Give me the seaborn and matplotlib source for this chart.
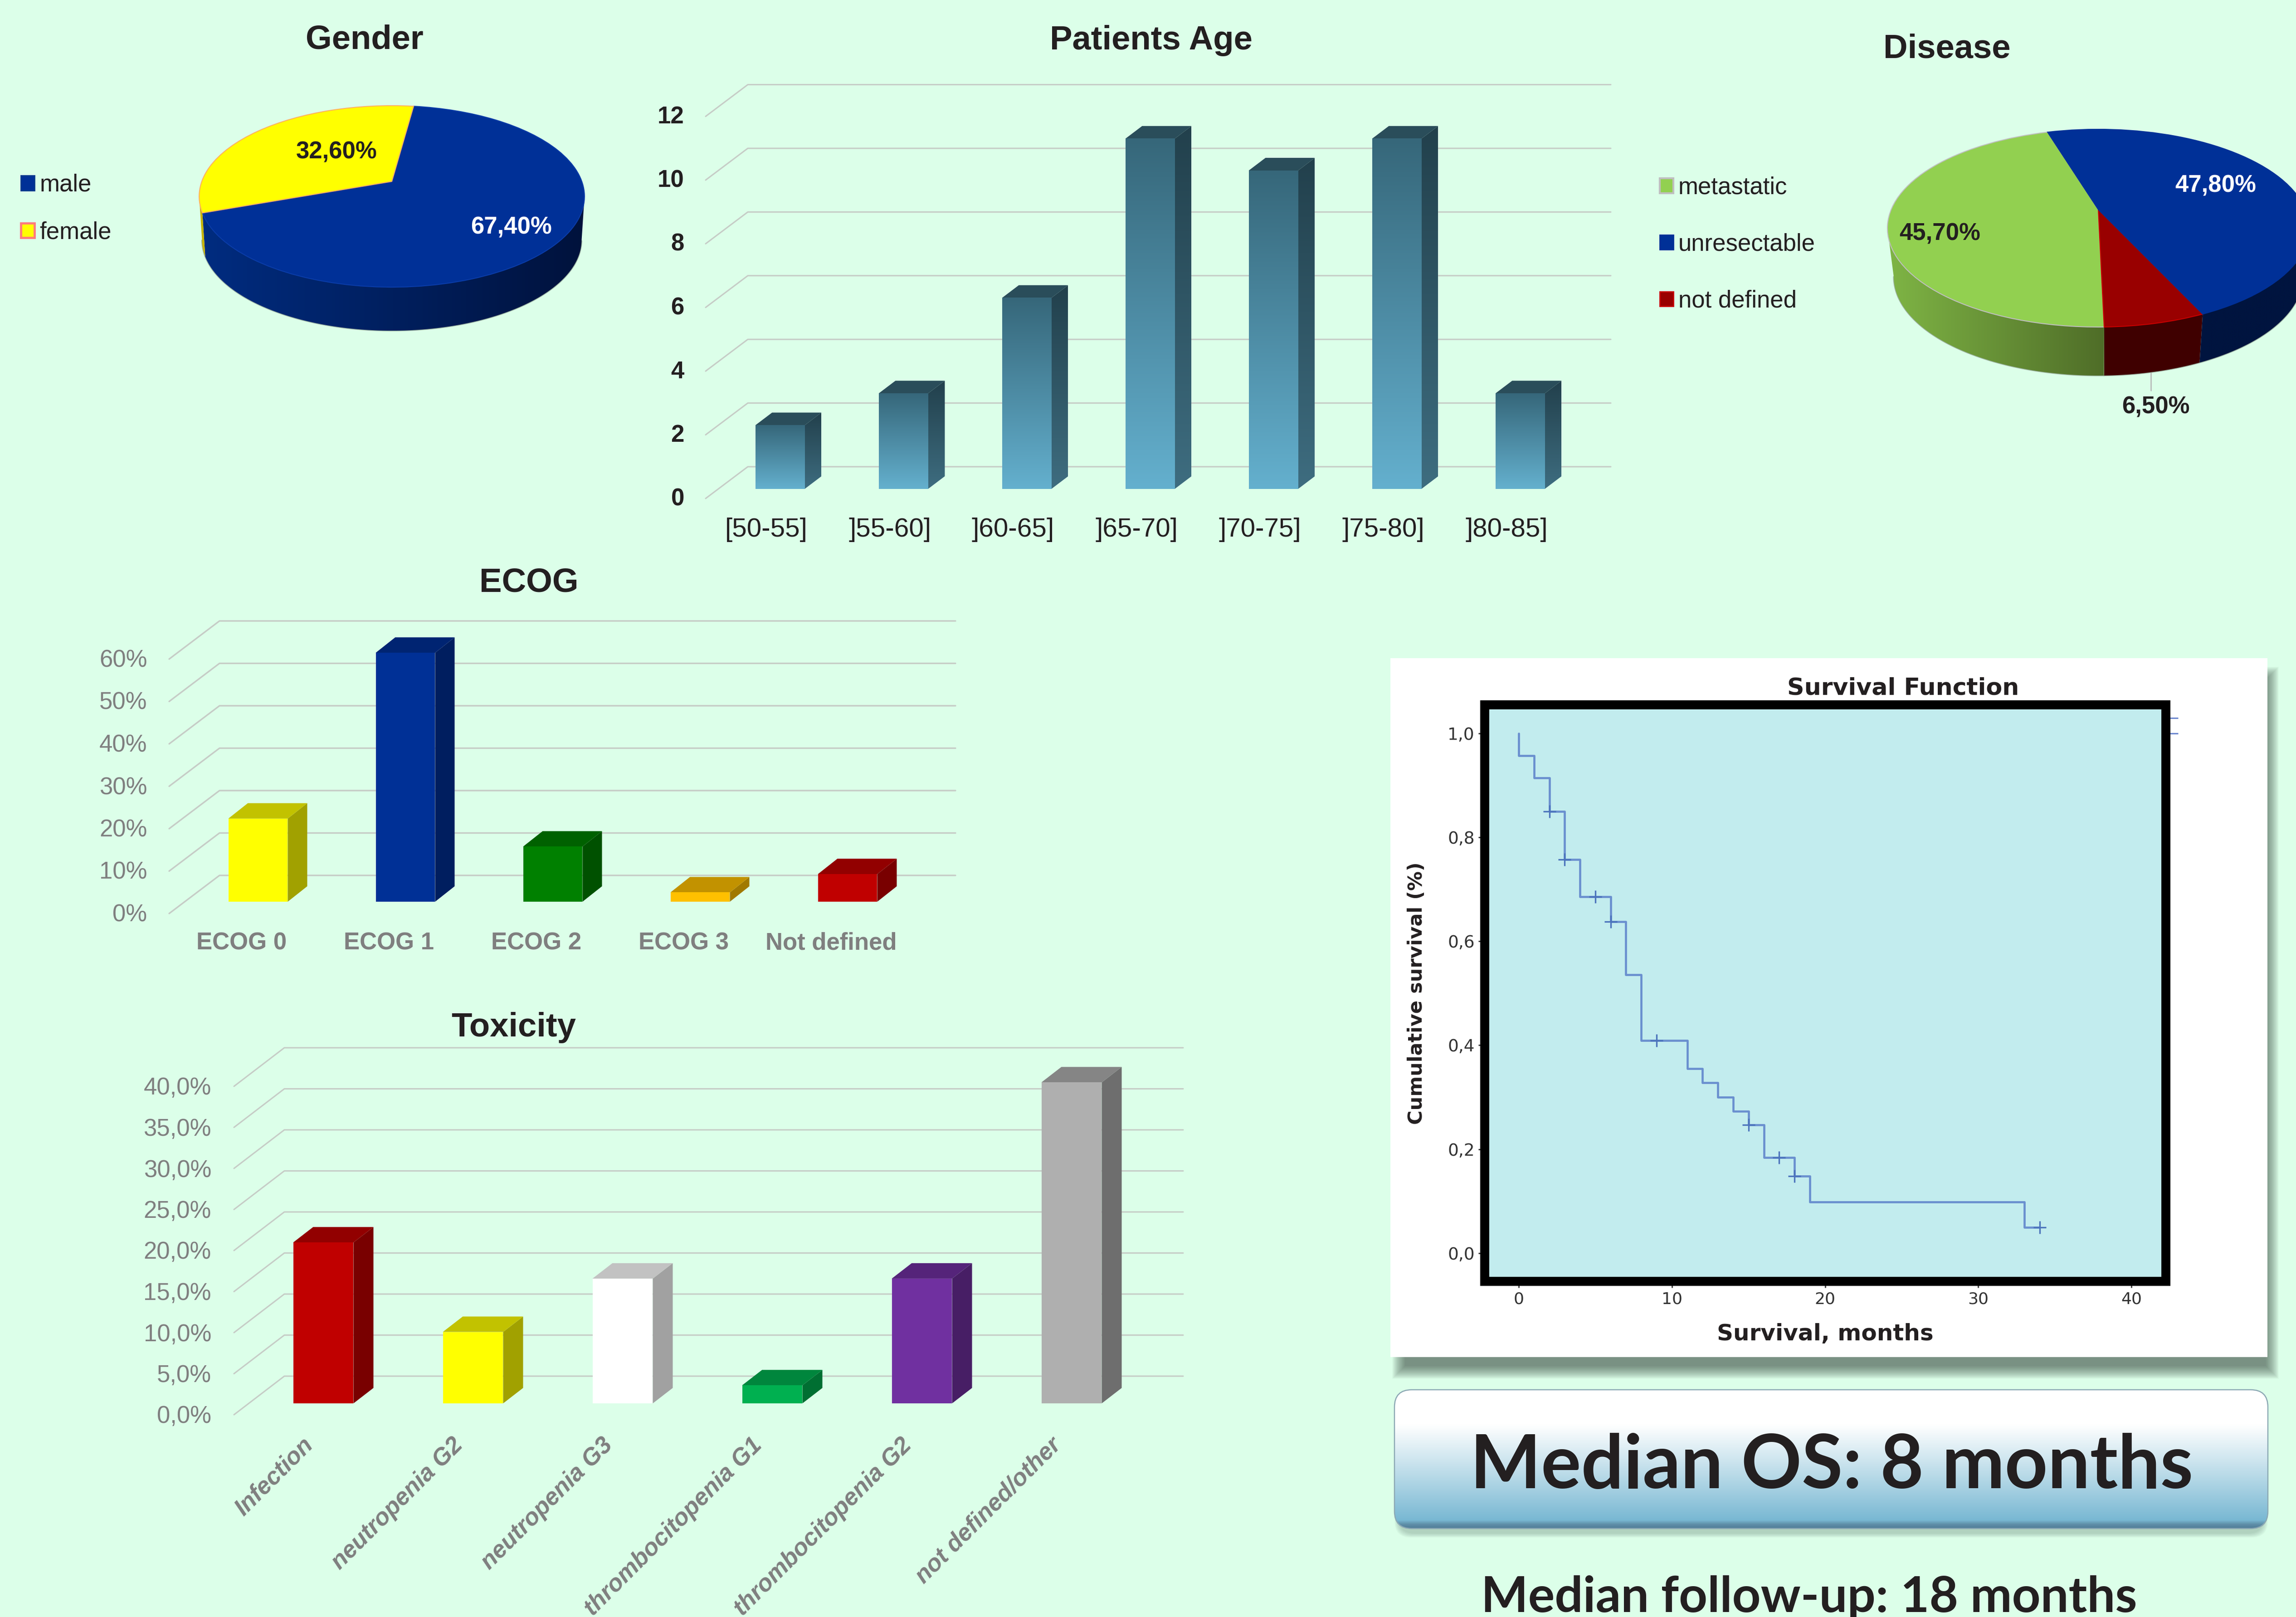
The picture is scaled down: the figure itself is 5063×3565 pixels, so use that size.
import numpy as np
import matplotlib
matplotlib.use('Agg')
import matplotlib.pyplot as plt
import seaborn as sns
from matplotlib.colors import to_rgb
from matplotlib.patches import FancyBboxPatch, Patch, Polygon, Rectangle
from matplotlib.transforms import Affine2D, Transform

# =============================================================
# DATA
# =============================================================

gender_labels = ['male', 'female']
gender_values = [67.4, 32.6]

disease_legend = ['metastatic', 'unresectable', 'not defined']
disease_values = [45.7, 6.5, 47.8]  # drawn order: metastatic, not defined, unresectable

age_labels = ['[50-55]', ']55-60]', ']60-65]', ']65-70]', ']70-75]', ']75-80]', ']80-85]']
age_values = [2, 3, 6, 11, 10, 11, 3]
age_ticks = [0, 2, 4, 6, 8, 10, 12]

ecog_labels = ['ECOG 0', 'ECOG 1', 'ECOG 2', 'ECOG 3', 'Not defined']
ecog_values = [19.6, 58.7, 13.0, 2.2, 6.5]
ecog_ticks = [0, 10, 20, 30, 40, 50, 60]

tox_labels = ['Infection', 'neutropenia G2', 'neutropenia G3',
              'thrombocitopenia G1', 'thrombocitopenia G2', 'not defined/other']
tox_values = [19.6, 8.7, 15.2, 2.2, 15.2, 39.1]
tox_ticks = [0, 5, 10, 15, 20, 25, 30, 35, 40]

km_time = [0, 0, 1, 2, 3, 4, 6, 7, 8, 11, 12, 13, 14, 15, 16, 18, 19, 33, 34]
km_surv = [1.0, .957, .914, .85, .757, .686, .638, .536, .409, .355, .328,
           .300, .273, .247, .184, .148, .099, .050, .050]
censor_time = [2, 3, 5, 6, 9, 15, 17, 18, 34]
censor_surv = [.85, .757, .686, .638, .409, .247, .184, .148, .050]
km_xticks = [0, 10, 20, 30, 40]
km_yticks = [0.0, 0.2, 0.4, 0.6, 0.8, 1.0]

# =============================================================
# STYLE
# =============================================================

W, H = 5063, 3565
BG = '#DCFFE9'
INK = '#231F20'
GREY = '#7F7F7F'
GRID = '#C6CCC6'

sns.set_theme(style='white')
plt.rcParams['font.family'] = ['Liberation Sans', 'DejaVu Sans']

fig = plt.figure(figsize=(W / 100, H / 100), dpi=100, facecolor=BG)


def px_axes(left, top, right, bottom):
    return fig.add_axes([left / W, 1 - bottom / H, (right - left) / W, (bottom - top) / H])


def shade(color, f):
    return tuple(c * f for c in to_rgb(color))


def ramp(c0, c1, horizontal=False):
    t = np.linspace(0, 1, 256)[:, None]
    arr = (1 - t) * np.array(to_rgb(c0)) + t * np.array(to_rgb(c1))
    arr = arr[None, :, :] if horizontal else arr[:, None, :]
    return arr


# Page layer in pixel coordinates, for panels and headings
bg = fig.add_axes([0, 0, 1, 1])
bg.set_xlim(0, W)
bg.set_ylim(H, 0)
bg.axis('off')

for txt, x, y in [('Gender', 804, 88), ('Patients Age', 2538, 90), ('Disease', 4293, 108),
                  ('ECOG', 1166, 1285), ('Toxicity', 1133, 2265)]:
    bg.text(x, y, txt, ha='center', va='center', fontsize=53.5, fontweight='bold', color=INK)


# =============================================================
# 3D LOOKING BARS
# =============================================================

def bar_chart(rect, centers, labels, values, ticks, tick_text, colors, width, depth,
              back, front, label_kw, ylab_dy, xlab_dx, xlab_dy, grid_lw, gradient=None):
    left, top, right, base = rect
    step = centers[1] - centers[0]
    ax = px_axes(left, top, right, base)
    sns.barplot(x=labels, y=values, hue=labels, palette=colors, width=width, saturation=1,
                legend=False, linewidth=0, ax=ax, zorder=3)
    ax.set_xlim((left - centers[0]) / step, (right - centers[0]) / step)
    ax.set_ylim(0, ticks[-1])
    ax.patch.set_visible(False)
    sns.despine(ax=ax, left=True, bottom=True)

    ppy = (base - top) / ticks[-1]
    x0, x1 = ax.get_xlim()

    # back wall and floor lines
    for v in ticks:
        ax.plot([x0, x0 + back[0] / step, x1],
                [v - front / ppy, v + back[1] / ppy, v + back[1] / ppy],
                color=GRID, lw=grid_lw, zorder=1, clip_on=False)

    ddx, ddy = depth[0] / step, depth[1] / ppy
    for bar, col in zip(ax.patches, colors):
        xa, xb = bar.get_x(), bar.get_x() + bar.get_width()
        h = bar.get_height()
        side = [(xb, 0), (xb + ddx, ddy), (xb + ddx, h + ddy), (xb, h)]
        cap = [(xa, h), (xa + ddx, h + ddy), (xb + ddx, h + ddy), (xb, h)]
        if gradient is None:
            ax.add_patch(Polygon(side, color=shade(col, .63), lw=0, zorder=2.5, clip_on=False))
            ax.add_patch(Polygon(cap, color=shade(col, .76), lw=0, zorder=2.6, clip_on=False))
        else:
            bar.set_facecolor('none')
            ax.imshow(ramp(*gradient['front']), extent=(xa, xb, 0, h), aspect='auto', zorder=3)
            im = ax.imshow(ramp(*gradient['side']), extent=(xb, xb + ddx, 0, h + ddy),
                           aspect='auto', zorder=2.5)
            im.set_clip_path(Polygon(side, transform=ax.transData))
            ax.add_patch(Polygon(cap, color=gradient['cap'], lw=0, zorder=2.6, clip_on=False))
    ax.set_xlim(x0, x1)
    ax.set_ylim(0, ticks[-1])

    ax.set_yticks(ticks)
    ax.set_yticklabels(tick_text, **label_kw['y'])
    ax.tick_params(axis='y', length=0, pad=label_kw['ypad'])
    ax.tick_params(axis='x', length=0, pad=0)
    ax.set_xticks(range(len(labels)))
    ax.set_xticklabels(labels, **label_kw['x'])
    for lab in ax.get_yticklabels():
        lab.set_transform(lab.get_transform() + Affine2D().translate(0, -ylab_dy))
    for lab in ax.get_xticklabels():
        lab.set_transform(lab.get_transform() + Affine2D().translate(xlab_dx, -xlab_dy))
    return ax


bar_chart((1556, 1078 - 12 * 70.2, 3552, 1078), [1720 + 272 * i for i in range(7)],
          age_labels, age_values, age_ticks, [str(t) for t in age_ticks],
          ['#4A8AA3'] * 7, .40, (37, 28), (93, 49), 21,
          {'y': dict(fontsize=38, fontweight='bold', color=INK), 'ypad': 34,
           'x': dict(fontsize=42, color=INK, va='center')},
          17, -30, 90, 2.2,
          gradient={'front': ('#36677A', '#64B0CE'), 'side': ('#22404C', '#3E6D80'), 'cap': '#2A4D5A'})

ecog_colors = ['#FFFF00', '#003096', '#008000', '#FFC000', '#C00000']
bar_chart((373, 1988 - 60 * 9.35, 2107, 1988), [569 + 325 * i for i in range(5)],
          ecog_labels, ecog_values, ecog_ticks, [f'{t}%' for t in ecog_ticks],
          ecog_colors, .403, (43, 34), (111, 58), 26,
          {'y': dict(fontsize=38, color=GREY), 'ypad': 35,
           'x': dict(fontsize=38, fontweight='bold', color=GREY, va='center')},
          24, -36, 92, 2.4)

tox_colors = ['#C00000', '#FFFF00', '#FFFFFF', '#00B050', '#7030A0', '#AFAFAF']
tox_ax = bar_chart((516, 3094 - 40 * 18.1, 2609, 3094), [713 + 330 * i for i in range(6)],
                   tox_labels, tox_values, tox_ticks, [f'{t},0%' for t in tox_ticks],
                   tox_colors, .403, (44, 34), (111, 60), 25,
                   {'y': dict(fontsize=38, color=GREY), 'ypad': 36,
                    'x': dict(fontsize=38, fontweight='bold', fontstyle='italic', color=GREY,
                              rotation=45, ha='right', va='top', rotation_mode='anchor')},
                   24, -48, 67, 2.2)


# =============================================================
# 3D LOOKING PIES
# =============================================================

class PiePerspective(Transform):
    """Tilts the unit pie circle, so that the back of the pie looks further away."""
    input_dims = 2
    output_dims = 2

    def __init__(self, a, b, k):
        super().__init__()
        self.a, self.b, self.k = a, b, k

    def transform_non_affine(self, xy):
        xy = np.asarray(xy, dtype=float)
        w = 1 + self.k * xy[:, 1]
        return np.column_stack([self.a * xy[:, 0] / w, self.b * xy[:, 1] / w])


def pie_chart(rect, apex, values, colors, edges, sides, start, a, b, k, depth, shrink):
    left, top, right, bottom = rect
    ax = px_axes(left, top, right, bottom)
    persp = PiePerspective(a, b, k)
    wedges, _ = ax.pie(values, colors=colors, startangle=start, radius=1,
                       wedgeprops=dict(linewidth=1.5))
    ax.set_aspect('auto')
    xlim = (left - apex[0], right - apex[0])
    ylim = (apex[1] - bottom, apex[1] - top)
    ax.set_xlim(xlim)
    ax.set_ylim(ylim)
    for w, edge, (c0, c1) in zip(wedges, edges, sides):
        w.set_transform(persp + ax.transData)
        w.set_edgecolor(edge)
        w.set_zorder(3)
        th = np.radians(np.linspace(w.theta1, w.theta2, 400))
        th = th[np.sin(th) < -k]
        if len(th) == 0:
            continue
        rim = persp.transform(np.column_stack([np.cos(th), np.sin(th)]))
        low = np.column_stack([rim[:, 0] * shrink, rim[:, 1] - depth])
        pts = np.vstack([rim, low[::-1]])
        im = ax.imshow(ramp(c0, c1, horizontal=True), aspect='auto', zorder=2,
                       extent=(pts[:, 0].min(), pts[:, 0].max(), pts[:, 1].min(), pts[:, 1].max()))
        im.set_clip_path(Polygon(pts, transform=ax.transData))
        ax.plot(low[:, 0], low[:, 1], color='#9DB3A2', lw=2.2, zorder=1.9)
    ax.set_xlim(xlim)
    ax.set_ylim(ylim)
    return ax


def pct(v):
    return f'{v:.2f}'.replace('.', ',') + '%'


pie_chart((400, 200, 1330, 760), (864, 400), gender_values, ['#003097', '#FFFF00'],
          ['#0A3CA8', '#FFB060'], [('#012C80', '#00123C'), ('#C8B400', '#C8B400')],
          199.7, 419, 194.6, .165, 96, .985)
pie_chart((4120, 250, W, 860), (4627, 462), disease_values, ['#92D050', '#990000', '#003097'],
          ['#BFBFBF', '#C80000', '#003097'],
          [('#7FB545', '#4F6D28'), ('#3F0000', '#400000'), ('#00143F', '#00143F')],
          106.8, 456.7, 210.3, .188, 107, .97)

pie_text = [(742, 335, gender_values[1], INK), (1127, 501, gender_values[0], 'white'),
            (4278, 515, disease_values[0], INK), (4886, 409, disease_values[2], 'white'),
            (4754, 898, disease_values[1], INK)]
bg.plot([4743, 4743], [820, 861], color='#B5B5B5', lw=1.8)

fig.legend(handles=[Patch(facecolor='#003097', edgecolor='#0A3A8C', lw=2),
                    Patch(facecolor='#FFFF00', edgecolor='#FF7B7B', lw=3.5)],
           labels=gender_labels, loc='upper left', bbox_to_anchor=(46 / W, 1 - 383 / H),
           frameon=False, fontsize=38, handlelength=.57, handleheight=.57, handletextpad=.22,
           labelspacing=1.04, borderpad=0, borderaxespad=0, labelcolor=INK)
fig.legend(handles=[Patch(facecolor='#92D050', edgecolor='#BFBFBF', lw=3),
                    Patch(facecolor='#003097', edgecolor='#003097', lw=2),
                    Patch(facecolor='#990000', edgecolor='#C80000', lw=2)],
           labels=disease_legend, loc='upper left', bbox_to_anchor=(3660 / W, 1 - 389 / H),
           frameon=False, fontsize=38, handlelength=.57, handleheight=.57, handletextpad=.2,
           labelspacing=1.417, borderpad=0, borderaxespad=0, labelcolor=INK)


# =============================================================
# SURVIVAL PANEL
# =============================================================

for i in range(30):
    grow = 30 - i
    bg.add_patch(Rectangle((3100 - grow, 1500 - grow), 1895 + 2 * grow, 1510 + 2 * grow,
                           facecolor='#3F4F45', alpha=.026, lw=0))
bg.add_patch(Rectangle((3066, 1451), 1934, 1541, facecolor='white', lw=0))

km_ax = px_axes(3274, 1553.5, 4776, 2825)
km_ax.set_facecolor('#C2ECEE')
KM_BLUE = '#6A90CF'
sns.lineplot(x=km_time, y=km_surv, drawstyle='steps-post', estimator=None, sort=False,
             color=KM_BLUE, lw=3.4, ax=km_ax)
sns.scatterplot(x=censor_time, y=censor_surv, marker='+', s=420, color='#4C74BC',
                linewidth=2.4, ax=km_ax, zorder=4)
km_ax.set_xlim(-2.22, 42.24)
km_ax.set_ylim(-.054, 1.055)
km_ax.hlines([1.0, 1.029], 42.24, 43.05, color='#6B86CE', lw=2.2, clip_on=False)
for s in km_ax.spines.values():
    s.set_visible(True)
    s.set_color('black')
    s.set_linewidth(14.4)
km_ax.set_xticks(km_xticks)
km_ax.set_yticks(km_yticks)
km_ax.set_yticklabels([f'{t:.1f}'.replace('.', ',') for t in km_yticks], family='DejaVu Sans',
                      fontsize=27, color='#333333')
km_ax.set_xticklabels([str(t) for t in km_xticks], family='DejaVu Sans', fontsize=26, color='#333333')
km_ax.tick_params(axis='both', length=10, width=2, color='#333333', pad=6, bottom=True, left=True)
km_ax.set_xlabel('Survival, months', family='DejaVu Sans', fontsize=36, fontweight='bold',
                 color=INK, labelpad=26)
km_ax.set_ylabel('Cumulative survival (%)', family='DejaVu Sans', fontsize=31, fontweight='bold',
                 color=INK, labelpad=34)
bg.text(4197, 1517, 'Survival Function', family='DejaVu Sans', fontsize=37.5, fontweight='bold',
        color=INK, ha='center', va='center')


# =============================================================
# MEDIAN BOXES
# =============================================================

for i in range(10):
    grow = 10 - i
    bg.add_patch(FancyBboxPatch((3085 - grow, 3080 - grow), 1906 + 2 * grow, 300 + 2 * grow,
                                boxstyle='round,pad=0,rounding_size=36', facecolor='#4E6B63',
                                alpha=.03, lw=0))
box = FancyBboxPatch((3075, 3064), 1926, 306, boxstyle='round,pad=0,rounding_size=38',
                     facecolor='none', edgecolor='#8CA8B4', lw=1.8, zorder=3)
bg.add_patch(box)
stops = [0, .25, .6, .94, .97, 1]
stop_cols = ['#FFFFFF', '#FFFFFF', '#BCDCE9', '#79B8D3', '#5F8FA8', '#4F7C96']
t = np.linspace(0, 1, 512)
grad = np.column_stack([np.interp(t, stops, [to_rgb(c)[i] for c in stop_cols]) for i in range(3)])
im = bg.imshow(grad[:, None, :], extent=(3075, 5001, 3370, 3064), aspect='auto', zorder=2)
im.set_clip_path(box)
bg.set_xlim(0, W)
bg.set_ylim(H, 0)

# Top layer: text that has to stay above the other axes
top = fig.add_axes([0, 0, 1, 1], zorder=20)
top.set_xlim(0, W)
top.set_ylim(H, 0)
top.axis('off')
for x, y, v, c in pie_text:
    top.text(x, y, pct(v), ha='center', va='center', fontsize=38, fontweight='bold', color=c)
top.text(4039, 3234, 'Median OS: 8 months', family='Lato', fontsize=119, fontweight='bold',
         color=INK, ha='center', va='center')
top.text(3989, 3554, 'Median follow-up: 18 months', family='Lato', fontsize=79, fontweight='bold',
         color=INK, ha='center', va='baseline')

fig.savefig('out.png', dpi=100, facecolor=BG)
